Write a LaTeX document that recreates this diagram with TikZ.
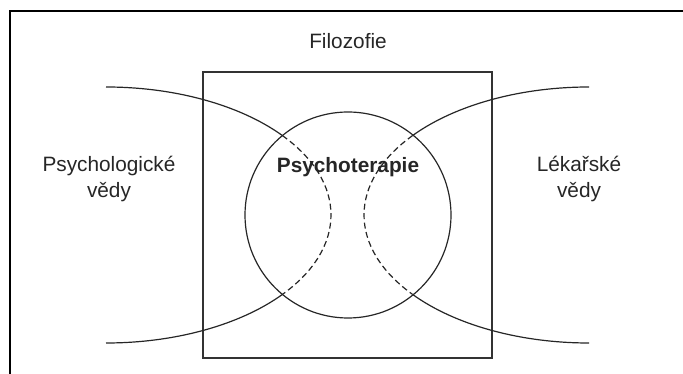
\documentclass[tikz,border=0pt]{standalone}
\usepackage{fontspec}
\setmainfont{Liberation Sans}
\usetikzlibrary{positioning}

\begin{document}
\begin{tikzpicture}[
  x=1pt, y=1pt,
  font=\fontsize{20.8}{26}\selectfont,
  lab/.style={text=black!85, align=center, inner sep=0pt},
  frm/.style={line width=2.6pt, draw=black},
  field/.style={line width=1.2pt, draw=black!80},
  curve/.style={line width=1.2pt, draw=black!85},
  hidden/.style={curve, dash pattern=on 6pt off 3.5pt}
]
\useasboundingbox (0,0) rectangle (683,374);

% ================= Frame =================
\draw[frm] (10,0) |- (683,363);

% ================= Filozofie: field and label =================
\draw[field] (203,16) rectangle (492,302);
\node[lab, anchor=base] (filo) at (348,325) {Filozofie};

% ================= Psychoterapie circle =================
\coordinate (psyc) at (348,159);
\draw[curve] (psyc) circle[radius=103];
\node[lab, anchor=base, font=\fontsize{20.8}{26}\selectfont\bfseries] (psy) at (348,201) {Psychoterapie};

% ================= Left sciences curve =================
\draw[curve] (106,287) arc[start angle=90, end angle=38.4, x radius=225, y radius=128] coordinate (lA);
\draw[hidden] (lA) arc[start angle=38.4, end angle=-38.4, x radius=225, y radius=128] coordinate (lB);
\draw[curve] (lB) arc[start angle=-38.4, end angle=-90, x radius=225, y radius=128];
\node[lab, anchor=base] (psych) at (109,176) {Psychologické\\ vědy};

% ================= Right sciences curve =================
\draw[curve] (589,287) arc[start angle=90, end angle=141.6, x radius=225, y radius=128] coordinate (rA);
\draw[hidden] (rA) arc[start angle=141.6, end angle=218.4, x radius=225, y radius=128] coordinate (rB);
\draw[curve] (rB) arc[start angle=218.4, end angle=270, x radius=225, y radius=128];
\node[lab, anchor=base] (med) at (579,176) {Lékařské\\ vědy};

\end{tikzpicture}
\end{document}
